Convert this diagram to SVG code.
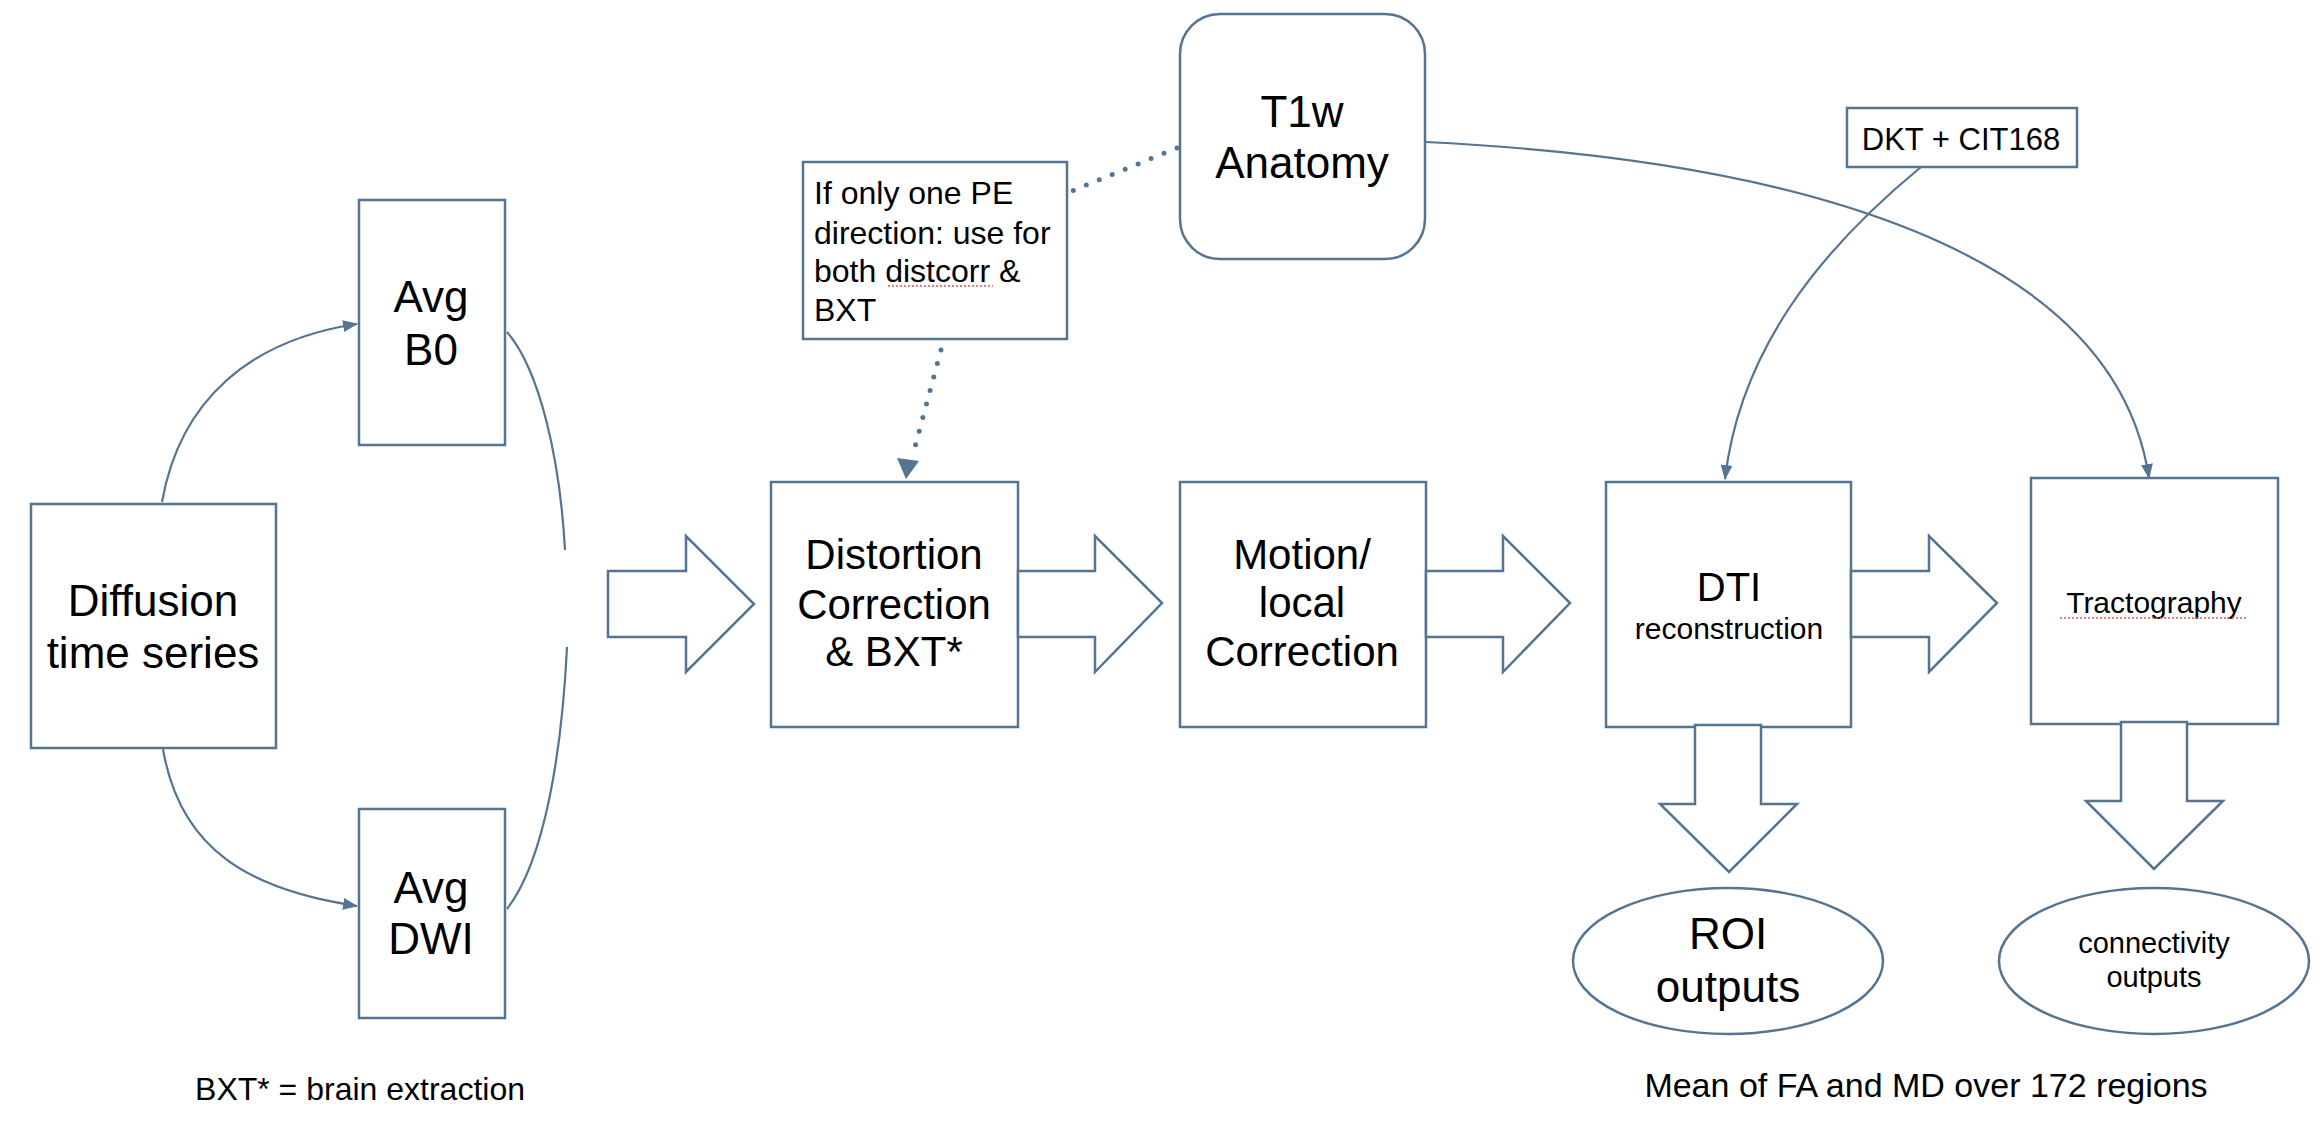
<svg xmlns="http://www.w3.org/2000/svg" width="2320" height="1126" viewBox="0 0 2320 1126">
<style>
.box{fill:#fff;stroke:#557491;stroke-width:2.5}
.blk{fill:#fff;stroke:#557491;stroke-width:2.5;stroke-linejoin:miter}
.con{fill:none;stroke:#557491;stroke-width:2.2}
.dot{fill:none;stroke:#557491;stroke-width:5;stroke-linecap:round;stroke-dasharray:0 14}
.spell{fill:none;stroke:#d9534f;stroke-width:1.5;stroke-dasharray:2 2}
text{font-family:"Liberation Sans",Arial,Helvetica,sans-serif;fill:#000;text-anchor:middle}
.big{font-size:44px}
.mid{font-size:42px}
.note{font-size:32px;text-anchor:start}
</style>
<defs>
<marker id="ah" markerUnits="userSpaceOnUse" markerWidth="16" markerHeight="12" refX="14" refY="6" orient="auto">
<path d="M0,0 L15,6 L0,12 Z" fill="#557491"/>
</marker>
<marker id="ahBig" markerUnits="userSpaceOnUse" markerWidth="22" markerHeight="22" refX="18" refY="11" orient="auto">
<path d="M0,0 L20,11 L0,22 Z" fill="#557491"/>
</marker>
</defs>
<rect width="2320" height="1126" fill="#fff"/>

<g id="connectors">
<path class="con" d="M162,502 C180,400 250,340 357,324" marker-end="url(#ah)"/>
<path class="con" d="M163,749 C180,850 250,890 357,906" marker-end="url(#ah)"/>
<path class="con" d="M507,332 C540,370 560,460 565,550"/>
<path class="con" d="M567,647 C562,750 545,860 507,909"/>
<path class="dot" d="M1177,148 L1067,193"/>
<path class="dot" d="M941,350 L912,458"/>
<path d="M897,458 L919,461 L906,479 Z" fill="#557491"/>
<path class="con" d="M1921,167 C1820,250 1740,350 1725,479" marker-end="url(#ah)"/>
<path class="con" d="M1425,142 C1800,160 2115,250 2149,478" marker-end="url(#ah)"/>
</g>

<g id="diffusion">
<rect class="box" x="31" y="504" width="245" height="244"/>
<text class="big" x="153" y="616">Diffusion</text>
<text class="big" x="153" y="668">time series</text>
</g>

<g id="avg-b0">
<rect class="box" x="359" y="200" width="146" height="245"/>
<text class="big" x="431" y="312">Avg</text>
<text class="big" x="431" y="365">B0</text>
</g>

<g id="avg-dwi">
<rect class="box" x="359" y="809" width="146" height="209"/>
<text class="big" x="431" y="903">Avg</text>
<text class="big" x="431" y="954">DWI</text>
</g>

<g id="arrow1">
<path class="blk" d="M608,571 L686,571 L686,536 L754,604 L686,672 L686,637 L608,637 Z"/>
</g>

<g id="distortion">
<rect class="box" x="771" y="482" width="247" height="245"/>
<text class="mid" x="894" y="569">Distortion</text>
<text class="mid" x="894" y="619">Correction</text>
<text class="mid" x="894" y="666">&amp; BXT*</text>
</g>

<g id="arrow2">
<path class="blk" d="M1018,571 L1095,571 L1095,536 L1162,603 L1095,672 L1095,637 L1018,637 Z"/>
</g>

<g id="motion">
<rect class="box" x="1180" y="482" width="246" height="245"/>
<text class="mid" x="1302" y="569">Motion/</text>
<text class="mid" x="1302" y="617">local</text>
<text class="mid" x="1302" y="666">Correction</text>
</g>

<g id="arrow3">
<path class="blk" d="M1426,571 L1503,571 L1503,536 L1570,603 L1503,672 L1503,637 L1426,637 Z"/>
</g>

<g id="dti">
<rect class="box" x="1606" y="482" width="245" height="245"/>
<text x="1729" y="601" font-size="40">DTI</text>
<text x="1729" y="639" font-size="30">reconstruction</text>
</g>

<g id="arrow4">
<path class="blk" d="M1851,571 L1929,571 L1929,536 L1997,603 L1929,672 L1929,637 L1851,637 Z"/>
</g>

<g id="tractography">
<rect class="box" x="2031" y="478" width="247" height="246"/>
<text x="2154" y="613" font-size="30">Tractography</text>
<path class="spell" d="M2060,618 L2247,618"/>
</g>

<g id="arrow-dti-down">
<path class="blk" d="M1695,725 L1761,725 L1761,804 L1797,804 L1729,872 L1660,804 L1695,804 Z"/>
</g>

<g id="arrow-tract-down">
<path class="blk" d="M2121,722 L2187,722 L2187,801 L2223,801 L2154,869 L2086,801 L2121,801 Z"/>
</g>

<g id="roi-outputs">
<ellipse class="box" cx="1728" cy="961" rx="155" ry="73"/>
<text class="big" x="1728" y="949">ROI</text>
<text class="big" x="1728" y="1002">outputs</text>
</g>

<g id="connectivity-outputs">
<ellipse class="box" cx="2154" cy="961" rx="155" ry="73"/>
<text x="2154" y="953" font-size="29">connectivity</text>
<text x="2154" y="987" font-size="29">outputs</text>
</g>

<g id="t1w">
<rect class="box" x="1180" y="14" width="245" height="245" rx="40" ry="40"/>
<text class="big" x="1302" y="127">T1w</text>
<text class="big" x="1302" y="178">Anatomy</text>
</g>

<g id="note">
<rect class="box" x="803" y="162" width="264" height="177"/>
<text class="note" x="814" y="204">If only one PE</text>
<text class="note" x="814" y="244">direction: use for</text>
<text class="note" x="814" y="282">both distcorr &amp;</text>
<text class="note" x="814" y="321">BXT</text>
<path class="spell" d="M888,286 L993,286"/>
</g>

<g id="dkt">
<rect class="box" x="1847" y="108" width="230" height="59"/>
<text x="1961" y="150" font-size="31">DKT + CIT168</text>
</g>

<g id="legend-bxt">
<text x="360" y="1100" font-size="32">BXT* = brain extraction</text>
</g>

<g id="legend-mean">
<text x="1926" y="1097" font-size="34">Mean of FA and MD over 172 regions</text>
</g>
</svg>
